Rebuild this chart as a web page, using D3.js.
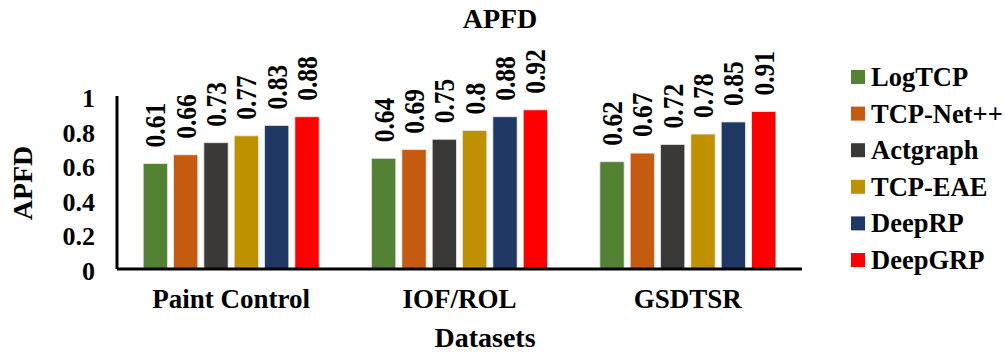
<!DOCTYPE html>
<html>
<head>
<meta charset="utf-8">
<script src="https://cdn.jsdelivr.net/npm/d3@7"></script>
<style>
  body { margin: 0; background: #fff; }
  text { font-family: "Liberation Serif", "Times New Roman", serif; font-weight: bold; fill: #000; }
</style>
</head>
<body>
<div id="chart"></div>
<script>
// data
const datasets = ["Paint Control", "IOF/ROL", "GSDTSR"]
const methods = ["LogTCP", "TCP-Net++", "Actgraph", "TCP-EAE", "DeepRP", "DeepGRP"]
const colors = ["#548235", "#C55A11", "#3B3838", "#BF9000", "#203864", "#FF0000"]
const logTCP   = [0.61, 0.64, 0.62]
const tcpNet   = [0.66, 0.69, 0.67]
const actgraph = [0.73, 0.75, 0.72]
const tcpEAE   = [0.77, 0.8, 0.78]
const deepRP   = [0.83, 0.88, 0.85]
const deepGRP  = [0.88, 0.92, 0.91]
const yTicks = [0, 0.2, 0.4, 0.6, 0.8, 1]

const series = [logTCP, tcpNet, actgraph, tcpEAE, deepRP, deepGRP]
const rows = datasets.map((d, i) => ({
  name: d,
  values: methods.map((m, j) => ({ method: m, color: colors[j], value: series[j][i] }))
}))

// dimensions
let dimensions = {
  width: 1005,
  height: 352,
  margin: { top: 96, right: 203, bottom: 83, left: 117 },
}
dimensions.boundedWidth = dimensions.width - dimensions.margin.left - dimensions.margin.right
dimensions.boundedHeight = dimensions.height - dimensions.margin.top - dimensions.margin.bottom

const svg = d3.select("#chart").append("svg")
  .attr("width", dimensions.width)
  .attr("height", dimensions.height)

const bounds = svg.append("g")
  .attr("transform", `translate(${dimensions.margin.left},${dimensions.margin.top})`)

// scales
const x0 = d3.scaleBand()
  .domain(datasets)
  .range([0, dimensions.boundedWidth])

const x1 = d3.scaleBand()
  .domain(methods)
  .range([(x0.bandwidth() - 182) / 2, (x0.bandwidth() + 182) / 2])
  .paddingInner(0.2)
  .paddingOuter(0.1)

const y = d3.scaleLinear()
  .domain([0, 1])
  .range([dimensions.boundedHeight, 0])

// bars
const groups = bounds.selectAll("g.grp")
  .data(rows)
  .join("g")
  .attr("class", "grp")
  .attr("transform", d => `translate(${x0(d.name)},0)`)

groups.selectAll("rect")
  .data(d => d.values)
  .join("rect")
  .attr("x", d => x1(d.method))
  .attr("y", d => y(d.value))
  .attr("width", x1.bandwidth())
  .attr("height", d => y(0) - y(d.value))
  .attr("fill", d => d.color)
  .attr("stroke", "#e8e8e8")
  .attr("stroke-width", 0.8)

// value labels, glyphs a bit taller like the original
groups.selectAll("text.val")
  .data(d => d.values)
  .join("text")
  .attr("class", "val")
  .attr("transform", d => `translate(${x1(d.method) + x1.bandwidth() / 2 + 10},${y(d.value) - 16}) rotate(-90) scale(1,1.12)`)
  .attr("font-size", 25.5)
  .text(d => d.value)

// axes
const yAxis = bounds.append("g")
  .call(d3.axisLeft(y).tickValues(yTicks).tickSize(0).tickPadding(22).tickFormat(d3.format("")))
yAxis.select(".domain").remove()
yAxis.selectAll("text")
  .attr("font-size", 26)
  .attr("font-family", "Liberation Serif")
  .attr("font-weight", "bold")
  .attr("dy", "0.4em")

bounds.append("line")
  .attr("x1", 0).attr("x2", 0)
  .attr("y1", y(1)).attr("y2", y(0))
  .attr("stroke", "#000").attr("stroke-width", 3)

bounds.append("line")
  .attr("x1", 0).attr("x2", dimensions.boundedWidth)
  .attr("y1", y(0)).attr("y2", y(0))
  .attr("stroke", "#000").attr("stroke-width", 3)

const xAxis = bounds.append("g")
  .attr("transform", `translate(0,${dimensions.boundedHeight})`)
  .call(d3.axisBottom(x0).tickSize(0).tickPadding(0))
xAxis.select(".domain").remove()
xAxis.selectAll("text")
  .attr("font-size", 27)
  .attr("font-family", "Liberation Serif")
  .attr("font-weight", "bold")
  .attr("dy", 0)
  .attr("y", 39)

// titles
svg.append("text")
  .attr("x", 500).attr("y", 28)
  .attr("text-anchor", "middle")
  .attr("font-size", 28)
  .text("APFD")

svg.append("text")
  .attr("x", 485).attr("y", 347)
  .attr("text-anchor", "middle")
  .attr("font-size", 28)
  .text("Datasets")

svg.append("text")
  .attr("transform", "translate(32,183) rotate(-90)")
  .attr("text-anchor", "middle")
  .attr("font-size", 28)
  .text("APFD")

// legend
const legend = svg.append("g")
  .attr("transform", "translate(851,77)")

const items = legend.selectAll("g")
  .data(methods)
  .join("g")
  .attr("transform", (d, i) => `translate(0,${i * 36.6})`)

items.append("rect")
  .attr("x", 0).attr("y", -7)
  .attr("width", 14).attr("height", 14)
  .attr("fill", (d, i) => colors[i])

items.append("text")
  .attr("x", 20).attr("y", 9)
  .attr("font-size", 26.5)
  .text(d => d)
</script>
</body>
</html>
